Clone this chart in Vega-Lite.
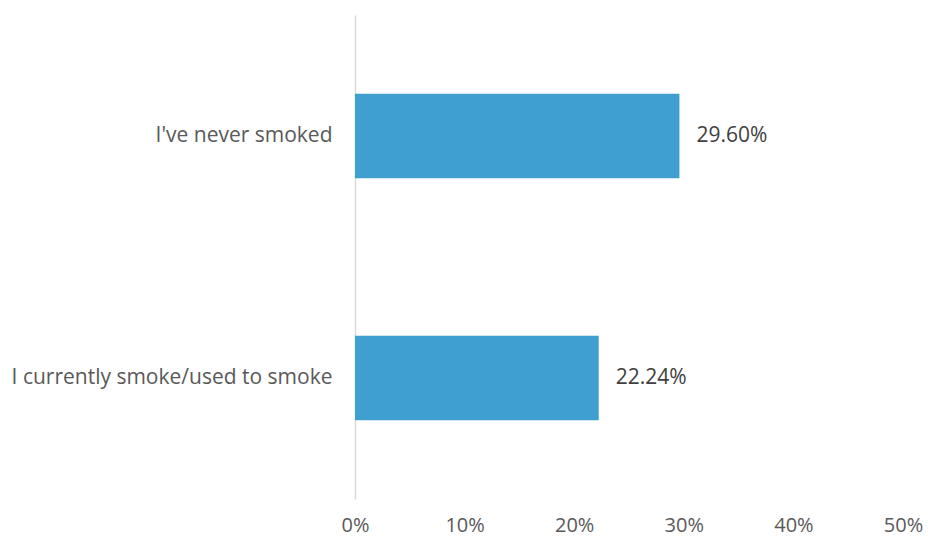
{
  "$schema": "https://vega.github.io/schema/vega-lite/v6.json",
  "width": 548,
  "height": 484,
  "autosize": {"type": "none"},
  "padding": {"left": 355, "top": 15, "right": 25, "bottom": 40},
  "background": "white",
  "config": {"view": {"stroke": null}, "font": "Open Sans"},
  "data": {"values": [
    {"category": "I've never smoked", "value": 0.296},
    {"category": "I currently smoke/used to smoke", "value": 0.2224}
  ]},
  "encoding": {
    "y": {"field": "category", "type": "nominal", "sort": null, "title": null,
      "scale": {"paddingInner": 0.65, "paddingOuter": 0.325},
      "axis": {"domainColor": "#d9d9d9", "domainWidth": 1.5, "ticks": false, "labelPadding": 23, "labelFontSize": 21, "labelColor": "#595959", "labelFont": "Open Sans", "labelLimit": 400}},
    "x": {"field": "value", "type": "quantitative", "title": null,
      "scale": {"domain": [0, 0.5], "nice": false},
      "axis": {"format": ".0%", "values": [0, 0.1, 0.2, 0.3, 0.4, 0.5], "domain": false, "ticks": false, "grid": false, "labelFlush": false, "labelPadding": 16, "labelFontSize": 20, "labelColor": "#595959", "labelFont": "Open Sans"}}
  },
  "layer": [
    {"mark": {"type": "bar", "color": "#3fa0d0"}},
    {"mark": {"type": "text", "align": "left", "dx": 17, "fontSize": 21, "color": "#404040", "font": "Open Sans"},
      "encoding": {"text": {"field": "value", "type": "quantitative", "format": ".2%"}}}
  ]
}
